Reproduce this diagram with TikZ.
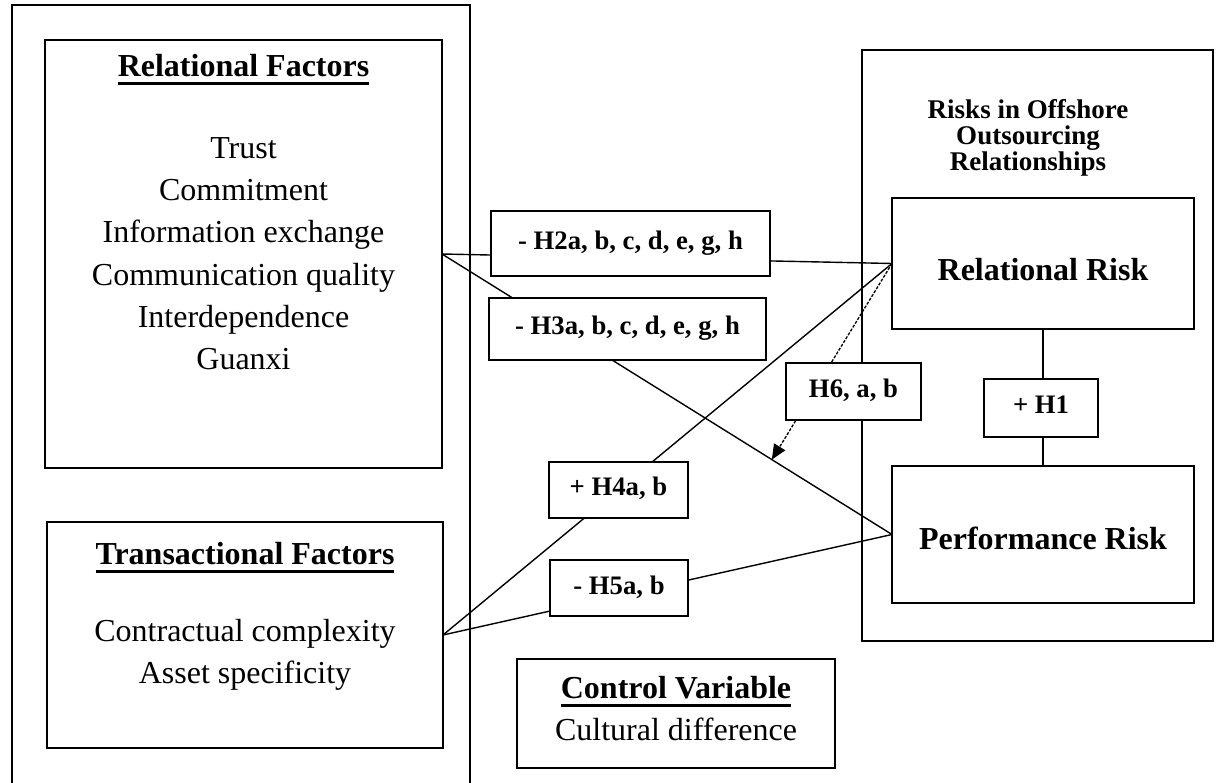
\documentclass[tikz,border=0pt]{standalone}
\usepackage{fontspec}
\setmainfont{Liberation Serif}
\usetikzlibrary{arrows.meta}

% type sizes (1pt of picture = 1 unit)
\newcommand\bodysize{\fontsize{32pt}{38pt}\selectfont}
\newcommand\hypsize{\fontsize{26.7pt}{30pt}\selectfont\bfseries}
\newcommand\subsize{\fontsize{27pt}{25pt}\selectfont\bfseries}
% heavy heading underline
\newcommand\headrule[1]{\setbox0\hbox{#1}\rlap{\rule[-8.5pt]{\wd0}{3pt}}\box0}

\begin{document}
\begin{tikzpicture}[x=1pt,y=-1pt,
  panel/.style={draw,line width=1.8pt,anchor=north west,inner sep=0pt,outer sep=0pt},
  hyp/.style={draw,line width=1.6pt,fill=white,inner sep=0pt,outer sep=0pt,
    font=\hypsize,text height=18pt,text depth=6pt},
  body/.style={anchor=base,inner sep=0pt,font=\bodysize},
  head/.style={anchor=base,inner sep=0pt,font=\bodysize\bfseries},
  sub/.style={anchor=base,inner sep=0pt,font=\subsize},
  link/.style={line width=1.4pt},
  dotlink/.style={line width=1.3pt,dash pattern=on 3pt off 1.5pt,
    -{Triangle[length=15pt,width=13pt]}}]

\useasboundingbox (0,0) rectangle (1216,783);

% containers and factor boxes
\node[panel,minimum width=458pt,minimum height=800pt] (leftframe) at (12,5) {};
\node[panel,minimum width=397pt,minimum height=428pt] (rf) at (45,40) {};
\node[panel,minimum width=396pt,minimum height=226pt] (tf) at (47,522) {};
\node[panel,minimum width=351pt,minimum height=591pt] (riskframe) at (862,50) {};
\node[panel,minimum width=302pt,minimum height=131pt] (rr) at (892,198) {};
\node[panel,minimum width=302pt,minimum height=137pt] (pr) at (892,466) {};
\node[panel,minimum width=318pt,minimum height=109pt] (cv) at (517,659) {};

% relational factors
\node[head] (rfT) at (243.5,77) {\headrule{Relational Factors}};
\node[body] (rf1) at (243.5,159) {Trust};
\node[body] (rf2) at (243.5,201) {Commitment};
\node[body] (rf3) at (243.5,243) {Information exchange};
\node[body] (rf4) at (243.5,286) {Communication quality};
\node[body] (rf5) at (243.5,328) {Interdependence};
\node[body] (rf6) at (243.5,370) {Guanxi};

% transactional factors
\node[head] (tfT) at (245,564) {\headrule{Transactional Factors}};
\node[body] (tf1) at (245,641) {Contractual complexity};
\node[body] (tf2) at (245,683) {Asset specificity};

% control variable
\node[head] (cvT) at (676,698) {\headrule{Control Variable}};
\node[body] (cv1) at (676,740) {Cultural difference};

% risk side
\node[sub] (rk1) at (1028,119) {Risks in Offshore};
\node[sub] (rk2) at (1028,145) {Outsourcing};
\node[sub] (rk3) at (1028,171) {Relationships};
\node[head] (rrT) at (1043,281) {Relational Risk};
\node[head] (prT) at (1043,549) {Performance Risk};

% hypothesised paths
\draw[link] (rf.east) -- (rr.west);
\draw[link] (rf.east) -- (pr.west);
\draw[link] (tf.east) -- (rr.west);
\draw[link] (tf.east) -- (pr.west);
\draw[link] (rr.south) -- (pr.north);
\path (rf.east) -- (pr.west) coordinate[pos=0.733] (modtip);
\draw[dotlink] (rr.west) -- (modtip);

% hypothesis labels
\node[hyp,minimum width=279pt,minimum height=65pt] (h2) at (630.5,243.5) {- H2a, b, c, d, e, g, h};
\node[hyp,minimum width=277pt,minimum height=62pt] (h3) at (627.5,329) {- H3a, b, c, d, e, g, h};
\node[hyp,minimum width=139pt,minimum height=56pt] (h4) at (618.5,490) {+ H4a, b};
\node[hyp,minimum width=138pt,minimum height=56pt] (h5) at (619,588) {- H5a, b};
\node[hyp,minimum width=135pt,minimum height=57pt] (h6) at (853.5,391.5) {H6, a, b};
\node[hyp,minimum width=114pt,minimum height=58pt] (h1) at (1041,408) {+ H1};

\end{tikzpicture}
\end{document}
